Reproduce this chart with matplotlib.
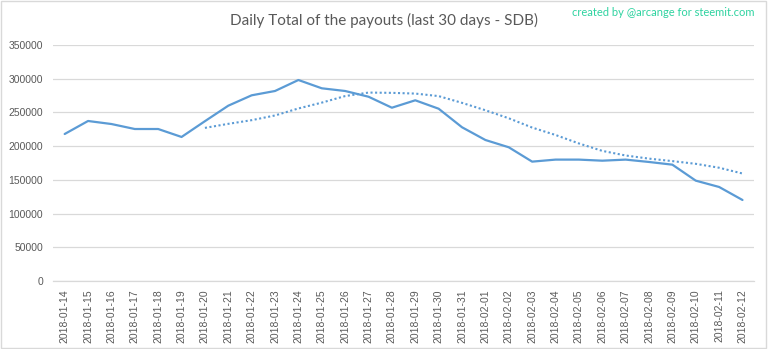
import matplotlib
matplotlib.use('Agg')
import matplotlib.pyplot as plt
import pandas as pd

# Daily SDB payout totals
dates = ['2018-01-14', '2018-01-15', '2018-01-16', '2018-01-17', '2018-01-18',
         '2018-01-19', '2018-01-20', '2018-01-21', '2018-01-22', '2018-01-23',
         '2018-01-24', '2018-01-25', '2018-01-26', '2018-01-27', '2018-01-28',
         '2018-01-29', '2018-01-30', '2018-01-31', '2018-02-01', '2018-02-02',
         '2018-02-03', '2018-02-04', '2018-02-05', '2018-02-06', '2018-02-07',
         '2018-02-08', '2018-02-09', '2018-02-10', '2018-02-11', '2018-02-12']
payouts = [218000, 237300, 232800, 225400, 225400, 213600, 237000, 260000,
           275400, 281800, 298100, 285800, 281800, 273300, 257000, 268000,
           255500, 228000, 209100, 198300, 177000, 180000, 180000, 178400,
           180000, 176500, 172500, 148800, 139400, 120100]

# 7 day moving average trend line
trend = pd.Series(payouts).rolling(7).mean()

blue = '#5B9BD5'
grey = '#595959'

fig = plt.figure(figsize=(7.68, 3.49), dpi=100)
ax = fig.add_axes([0.069, 0.195, 0.913, 0.676])

x = range(len(dates))
ax.plot(x, payouts, color=blue, lw=1.6, solid_capstyle='round')
ax.plot(x, trend, color=blue, lw=1.5, linestyle=(0, (1, 1.2)))

ax.set_xlim(-0.5, len(dates) - 0.5)
ax.set_ylim(0, 350000)
ax.set_yticks(range(0, 350001, 50000))
ax.set_yticklabels([str(v) for v in range(0, 350001, 50000)],
                   fontsize=7.5, color=grey, family='Liberation Sans')
ax.set_xticks(list(x))
ax.set_xticklabels(dates, rotation=90, fontsize=7.5, color=grey,
                   family='Liberation Sans')
ax.tick_params(length=0, pad=6)
ax.tick_params(axis='y', pad=7)

ax.grid(axis='y', color='#d9d9d9', lw=0.9)
ax.set_axisbelow(True)
for side in ['top', 'right', 'left']:
    ax.spines[side].set_visible(False)
ax.spines['bottom'].set_color('#d9d9d9')
ax.spines['bottom'].set_linewidth(0.9)

fig.text(0.5, 0.94, 'Daily Total of the payouts (last 30 days - SDB)',
         ha='center', va='center', fontsize=11, color=grey, family='Lato')
fig.text(0.983, 0.963, 'created by @arcange for steemit.com',
         ha='right', va='center', fontsize=8, color='#2ed3a0', family='Lato')

# light frame round the chart
fig.patches.append(plt.Rectangle((0.001, 0.002), 0.997, 0.996, fill=False,
                                 edgecolor='#d9d9d9', lw=1,
                                 transform=fig.transFigure))

plt.savefig('out.png', dpi=100)
